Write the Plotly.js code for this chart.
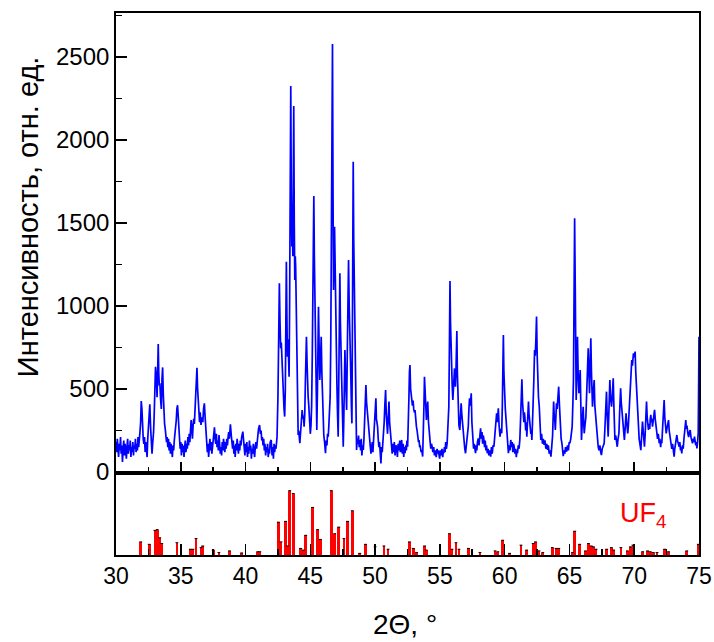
<!DOCTYPE html>
<html>
<head>
<meta charset="utf-8">
<script src="https://cdn.plot.ly/plotly-3.0.1.min.js"></script>
<style>html,body{margin:0;padding:0;background:#fff;}#chart{width:714px;height:642px;}</style>
</head>
<body>
<div id="chart"></div>
<script>
const scan30to42 = [
[30.00,180],[30.05,120],[30.10,200],[30.15,150],[30.20,90],[30.25,170],[30.30,130],[30.35,210],[30.40,110],[30.45,160],
[30.50,60],[30.55,140],[30.60,190],[30.65,100],[30.70,170],[30.75,130],[30.80,80],[30.85,150],[30.90,200],[30.95,110],
[31.00,160],[31.05,130],[31.10,190],[31.15,90],[31.20,150],[31.25,120],[31.30,180],[31.35,100],[31.40,160],[31.45,140],
[31.50,200],[31.55,120],[31.60,170],[31.65,130],[31.70,210],[31.75,150],[31.80,180],[31.85,240],[31.90,300],[31.95,428],
[32.00,380],[32.05,260],[32.10,200],[32.15,170],[32.20,210],[32.25,120],[32.30,180],[32.35,140],[32.40,90],[32.45,200],
[32.50,250],[32.55,330],[32.61,408],[32.67,270],[32.72,190],[32.78,110],[32.83,170],[32.90,240],[32.95,350],[33.00,600],
[33.05,634],[33.12,560],[33.17,450],[33.22,620],[33.26,771],[33.30,600],[33.34,520],[33.39,534],[33.44,440],[33.50,380],
[33.55,560],[33.60,630],[33.65,470],[33.70,330],[33.75,290],[33.80,260],[33.85,230],[33.90,180],[33.95,210],[34.00,150],
[34.05,200],[34.10,130],[34.15,180],[34.20,110],[34.25,170],[34.30,140],[34.35,90],[34.40,160],[34.45,130],[34.50,190],
[34.55,220],[34.60,260],[34.65,310],[34.70,380],[34.75,402],[34.80,340],[34.85,250],[34.90,200],[34.95,140],[35.00,180],
[35.05,100],[35.10,170],[35.15,120],[35.20,160],[35.25,90],[35.30,150],[35.35,190],[35.40,120],[35.45,170],[35.50,140],
[35.55,210],[35.60,160],[35.65,230],[35.70,180],[35.75,250],[35.80,313],[35.85,260],[35.90,200],[35.95,280],[36.00,320],
[36.05,290],[36.10,373],[36.15,480],[36.20,560],[36.25,628],[36.30,500],[36.35,400],[36.40,340],[36.45,300],[36.50,360],
[36.56,283],[36.62,330],[36.70,300],[36.76,380],[36.82,414],[36.88,330],[36.95,250],[37.00,200],[37.05,120],[37.10,170],
[37.15,90],[37.20,150],[37.25,200],[37.30,130],[37.35,180],[37.40,110],[37.45,160],[37.50,220],[37.55,250],[37.60,269],
[37.65,200],[37.70,170],[37.75,230],[37.80,150],[37.85,190],[37.90,130],[37.95,223],[38.00,180],[38.05,110],[38.10,150],
[38.15,100],[38.20,180],[38.25,130],[38.30,200],[38.35,160],[38.40,120],[38.45,180],[38.50,140],[38.55,200],[38.60,160],
[38.65,210],[38.70,240],[38.75,200],[38.83,287],[38.90,220],[38.95,180],[39.00,140],[39.05,190],[39.10,110],[39.15,160],
[39.20,90],[39.25,170],[39.30,130],[39.35,200],[39.40,150],[39.45,110],[39.50,170],[39.55,130],[39.60,190],[39.65,160],
[39.70,210],[39.79,243],[39.85,190],[39.90,150],[39.95,100],[40.00,170],[40.05,120],[40.10,180],[40.15,90],[40.20,150],
[40.25,110],[40.30,190],[40.35,130],[40.40,160],[40.45,80],[40.50,140],[40.55,110],[40.60,170],[40.65,130],[40.70,90],
[40.75,150],[40.80,180],[40.85,140],[40.90,200],[40.95,230],[41.00,260],[41.08,283],[41.15,230],[41.20,250],[41.25,190],
[41.30,210],[41.35,160],[41.40,200],[41.45,130],[41.50,170],[41.55,100],[41.60,150],[41.65,120],[41.70,170],[41.75,90],
[41.80,140],[41.85,110],[41.90,180],[41.98,193],[42.05,100],[42.10,150],[42.15,80],[42.20,170],[42.25,120],[42.30,160],
[42.35,140],[42.43,213]
];
const scan42to55 = [
[42.50,450],[42.56,800],[42.61,1137],[42.66,900],[42.71,745],[42.76,780],[42.82,655],[42.87,500],[42.92,414],[42.97,380],
[43.02,334],[43.07,500],[43.11,900],[43.15,1267],[43.19,950],[43.23,694],[43.28,800],[43.32,620],[43.36,574],[43.40,1000],
[43.45,1800],[43.49,2325],[43.53,1700],[43.57,1358],[43.61,1500],[43.65,1300],[43.69,1800],[43.72,2205],[43.76,1500],[43.80,1157],
[43.84,1300],[43.87,1227],[43.90,1050],[43.93,956],[43.97,600],[44.01,350],[44.06,223],[44.10,250],[44.14,200],[44.19,173],
[44.23,220],[44.28,300],[44.33,360],[44.37,373],[44.42,320],[44.47,340],[44.52,273],[44.57,350],[44.62,550],[44.66,700],
[44.70,815],[44.75,650],[44.79,500],[44.83,454],[44.88,400],[44.92,300],[44.96,253],[45.00,230],[45.05,280],[45.10,400],
[45.15,700],[45.20,1100],[45.24,1450],[45.27,1663],[45.31,1300],[45.35,1000],[45.40,915],[45.44,700],[45.47,400],[45.50,253],
[45.55,500],[45.59,800],[45.63,996],[45.68,750],[45.73,554],[45.78,650],[45.84,815],[45.89,600],[45.94,400],[45.99,293],
[46.04,220],[46.10,180],[46.17,113],[46.22,190],[46.28,160],[46.33,230],[46.38,213],[46.43,280],[46.48,350],[46.53,454],
[46.58,800],[46.63,1500],[46.67,2100],[46.71,2578],[46.75,1700],[46.79,1096],[46.83,1300],[46.87,1478],[46.91,1200],[46.94,1056],
[46.98,800],[47.02,600],[47.05,534],[47.10,350],[47.15,213],[47.19,500],[47.24,900],[47.28,1197],[47.32,900],[47.37,750],
[47.41,655],[47.45,500],[47.50,300],[47.54,153],[47.58,300],[47.63,550],[47.67,735],[47.71,600],[47.76,450],[47.80,373],
[47.85,700],[47.90,1100],[47.95,1277],[48.00,1000],[48.04,900],[48.08,795],[48.12,600],[48.17,400],[48.21,293],[48.25,900],
[48.28,1500],[48.31,1869],[48.35,1400],[48.40,1100],[48.44,976],[48.48,700],[48.52,400],[48.57,133],[48.62,200],[48.67,170],
[48.72,220],[48.77,150],[48.83,193],[48.88,130],[48.93,200],[48.98,100],[49.04,160],[49.09,133],[49.14,200],[49.19,320],
[49.24,450],[49.29,524],[49.34,420],[49.40,350],[49.47,313],[49.52,250],[49.57,200],[49.62,160],[49.68,110],[49.73,133],
[49.78,180],[49.83,120],[49.88,200],[49.93,260],[49.98,350],[50.02,420],[50.06,444],[50.10,320],[50.15,300],[50.19,273],
[50.24,200],[50.29,150],[50.34,180],[50.40,90],[50.45,52],[50.50,150],[50.55,120],[50.60,180],[50.65,220],[50.70,300],
[50.75,400],[50.81,494],[50.86,350],[50.91,300],[50.96,230],[51.01,320],[51.07,424],[51.12,300],[51.17,250],[51.22,200],
[51.27,153],[51.32,110],[51.38,170],[51.43,120],[51.48,180],[51.54,100],[51.60,160],[51.66,153],[51.72,90],[51.78,170],
[51.84,130],[51.90,190],[51.95,120],[52.00,150],[52.05,193],[52.10,110],[52.16,170],[52.21,90],[52.26,150],[52.31,113],
[52.36,160],[52.41,130],[52.46,190],[52.51,153],[52.56,250],[52.61,450],[52.65,600],[52.69,644],[52.74,500],[52.78,480],
[52.82,444],[52.88,400],[52.93,430],[52.98,380],[53.03,360],[53.08,373],[53.14,300],[53.19,273],[53.24,250],[53.30,220],
[53.35,180],[53.39,193],[53.44,150],[53.49,153],[53.55,120],[53.60,133],[53.67,93],[53.72,200],[53.77,400],[53.81,574],
[53.85,500],[53.90,350],[53.96,313],[54.01,380],[54.06,424],[54.12,300],[54.19,203],[54.25,180],[54.30,140],[54.35,170],
[54.40,153],[54.46,120],[54.52,150],[54.58,100],[54.63,130],[54.66,113],[54.72,90],[54.78,140],[54.84,110],[54.88,130],
[54.92,103],[54.98,80]
];
const scan55to65 = [
[55.04,130],[55.10,100],[55.16,140],[55.22,90],[55.27,130],[55.30,113],[55.35,150],[55.40,120],[55.45,180],[55.50,140],
[55.56,173],[55.62,250],[55.69,394],[55.74,800],[55.78,1150],[55.82,900],[55.86,700],[55.90,631],[55.95,520],[56.00,434],
[56.05,500],[56.09,580],[56.13,624],[56.17,560],[56.20,514],[56.24,600],[56.28,780],[56.31,849],[56.35,600],[56.41,333],
[56.47,280],[56.54,253],[56.59,330],[56.64,414],[56.69,350],[56.75,280],[56.80,233],[56.86,180],[56.92,140],[56.98,113],
[57.04,150],[57.10,190],[57.15,230],[57.19,273],[57.24,380],[57.29,444],[57.35,400],[57.42,474],[57.47,300],[57.51,230],
[57.55,173],[57.60,140],[57.65,170],[57.70,120],[57.75,113],[57.80,160],[57.85,130],[57.90,180],[57.96,203],[58.02,160],
[58.08,220],[58.14,263],[58.20,200],[58.25,240],[58.30,170],[58.35,220],[58.40,193],[58.45,150],[58.50,190],[58.55,130],
[58.60,160],[58.66,113],[58.72,140],[58.78,100],[58.84,130],[58.92,93],[58.98,150],[59.04,110],[59.10,160],[59.17,153],
[59.22,200],[59.28,280],[59.33,330],[59.38,354],[59.44,300],[59.51,384],[59.57,280],[59.64,213],[59.70,260],[59.77,233],
[59.82,400],[59.86,650],[59.90,825],[59.94,600],[60.00,434],[60.05,380],[60.11,313],[60.17,250],[60.23,180],[60.29,113],
[60.35,160],[60.41,130],[60.47,193],[60.53,150],[60.58,180],[60.63,120],[60.68,170],[60.73,153],[60.79,110],[60.85,140],
[60.90,90],[60.95,130],[60.99,113],[61.05,160],[61.11,140],[61.17,193],[61.22,300],[61.28,450],[61.33,558],[61.38,420],
[61.43,354],[61.48,300],[61.52,360],[61.56,333],[61.62,250],[61.67,300],[61.71,213],[61.76,280],[61.80,370],[61.84,424],
[61.88,350],[61.93,300],[61.97,273],[62.02,230],[62.06,250],[62.10,193],[62.15,300],[62.20,394],[62.25,550],[62.31,735],
[62.36,700],[62.41,800],[62.46,936],[62.51,700],[62.56,494],[62.61,450],[62.67,394],[62.72,300],[62.79,193],[62.85,230],
[62.92,170],[62.98,200],[63.05,163],[63.11,190],[63.18,140],[63.25,170],[63.31,133],[63.37,160],[63.44,110],[63.50,130],
[63.57,93],[63.63,150],[63.70,220],[63.75,350],[63.78,424],[63.83,330],[63.87,313],[63.91,253],[63.96,350],[64.00,414],
[64.05,380],[64.10,420],[64.17,514],[64.23,400],[64.30,273],[64.36,200],[64.42,173],[64.48,120],[64.52,95],[64.58,130],
[64.64,110],[64.70,150],[64.78,122],[64.85,160],[64.92,130],[64.98,180]
];
const scan65to75 = [
[65.03,173],[65.10,200],[65.16,240],[65.21,273],[65.26,400],[65.31,554],[65.36,1100],[65.40,1528],[65.45,1100],[65.49,700],
[65.52,434],[65.57,600],[65.62,815],[65.67,600],[65.73,474],[65.78,550],[65.83,614],[65.88,400],[65.93,193],[65.99,300],
[66.06,393],[66.10,300],[66.14,233],[66.20,280],[66.27,333],[66.32,450],[66.37,600],[66.41,700],[66.45,745],[66.50,600],
[66.55,474],[66.60,650],[66.65,805],[66.70,600],[66.74,450],[66.78,393],[66.84,480],[66.91,554],[66.96,400],[67.02,330],
[67.09,273],[67.15,200],[67.22,152],[67.28,130],[67.35,160],[67.41,120],[67.47,102],[67.53,140],[67.60,160],[67.68,173],
[67.73,250],[67.78,350],[67.82,420],[67.86,484],[67.91,350],[67.95,260],[67.99,213],[68.04,350],[68.08,480],[68.12,554],
[68.17,450],[68.21,400],[68.25,393],[68.30,450],[68.34,520],[68.38,564],[68.43,400],[68.47,250],[68.51,193],[68.57,220],
[68.63,180],[68.69,152],[68.75,200],[68.82,233],[68.87,350],[68.91,450],[68.95,504],[69.00,420],[69.04,380],[69.08,333],
[69.13,260],[69.18,220],[69.24,193],[69.29,250],[69.33,300],[69.37,354],[69.42,300],[69.46,260],[69.50,233],[69.55,280],
[69.60,350],[69.64,400],[69.68,454],[69.73,560],[69.77,620],[69.81,675],[69.86,640],[69.90,700],[69.94,715],[69.99,690],
[70.03,720],[70.07,725],[70.12,600],[70.17,514],[70.22,420],[70.27,330],[70.33,233],[70.38,200],[70.44,170],[70.51,132],
[70.56,200],[70.60,250],[70.64,304],[70.69,250],[70.74,200],[70.79,152],[70.84,220],[70.90,330],[70.95,424],[71.00,330],
[71.05,300],[71.10,253],[71.15,290],[71.20,260],[71.24,320],[71.28,344],[71.33,300],[71.37,320],[71.41,273],[71.46,310],
[71.52,340],[71.57,374],[71.62,320],[71.68,280],[71.75,233],[71.80,200],[71.86,230],[71.93,173],[71.98,200],[72.04,150],
[72.09,190],[72.13,173],[72.18,250],[72.23,330],[72.27,380],[72.31,434],[72.36,330],[72.41,280],[72.47,233],[72.52,260],
[72.58,280],[72.65,313],[72.70,250],[72.75,220],[72.80,190],[72.85,173],[72.90,140],[72.96,170],[73.02,120],[73.08,92],
[73.13,140],[73.18,180],[73.24,200],[73.29,223],[73.34,190],[73.40,170],[73.47,152],[73.52,180],[73.57,130],[73.62,150],
[73.67,112],[73.72,160],[73.78,140],[73.84,200],[73.90,250],[73.94,290],[73.98,313],[74.02,260],[74.07,280],[74.14,233],
[74.20,210],[74.26,240],[74.32,253],[74.38,210],[74.44,190],[74.50,173],[74.55,200],[74.60,180],[74.65,213],[74.70,190],
[74.75,160],[74.80,180],[74.84,142],[74.89,180],[74.94,233],[74.97,500],[75.00,815]
];

// UF4 reference lines: positions (2Θ) and relative intensities
const uf4Pos = [31.91,32.56,33.00,33.18,33.38,33.53,34.70,35.74,35.94,36.18,36.56,36.70,37.50,37.94,38.76,39.70,40.94,41.10,
42.53,42.74,43.09,43.24,43.41,43.68,44.26,44.47,44.65,45.18,45.56,45.76,46.62,46.88,47.20,47.59,47.88,48.24,48.82,49.26,
50.00,50.68,51.00,52.65,52.94,53.20,53.82,53.94,55.74,55.94,56.24,56.47,57.20,58.09,59.26,59.47,59.85,60.38,61.26,61.70,
62.20,62.38,62.65,62.94,63.68,63.97,64.18,65.24,65.41,65.79,66.24,66.47,66.68,66.85,67.06,67.88,68.24,68.41,68.97,69.47,
69.71,69.90,70.65,71.03,71.24,71.47,71.76,72.35,72.65,74.06,74.95];
const uf4Int = [16,13,30,31,21,14,15,7,7,20,9,11,6,3,5,2.5,4,4,
40,16,41,11,78.5,75,8,6,24,58,31,19,78.5,26,34,20,41,54,2,13,
10,11,7,16,8,3,11,6,26,7,15,7,8,3,5,4,18,2,12,6,
14,16,5,3,9,8,8,3,29,13,5,14,11,10,7,7,9,6,9,5,
10,12,4,5,4,3,3,7,4,5,13];

const xTickVals = [30,35,40,45,50,55,60,65,70,75];
const yTickVals = [0,500,1000,1500,2000,2500];

const scan = [].concat(scan30to42, scan42to55, scan55to65, scan65to75);
const scanX = scan.map(p => p[0]);
const scanY = scan.map(p => p[1]);

const FONT = 'Arial, "Liberation Sans", sans-serif';
const split = 82/542;

const traces = [
  {x: scanX, y: scanY, type: 'scatter', mode: 'lines', xaxis: 'x2', yaxis: 'y2',
   line: {color: '#0000ff', width: 1.7}, hoverinfo: 'skip'},
  {x: uf4Pos, y: uf4Int, type: 'bar', xaxis: 'x', yaxis: 'y', width: 0.21,
   marker: {color: '#ff0000', line: {width: 0}}, hoverinfo: 'skip'},
  {x: uf4Pos, y: uf4Int, type: 'scatter', mode: 'markers', xaxis: 'x', yaxis: 'y',
   marker: {symbol: 'line-ew-open', size: 2, color: '#000', line: {color: '#000', width: 1}}, hoverinfo: 'skip'}
];

const axLine = {showline: true, linecolor: '#000', linewidth: 1.8, mirror: true, showgrid: false, zeroline: false};

const layout = {
  width: 714, height: 642,
  margin: {l: 116, r: 15, t: 13, b: 87},
  paper_bgcolor: '#fff', plot_bgcolor: '#fff',
  showlegend: false, bargap: 0,
  font: {family: FONT, size: 23, color: '#000'},
  xaxis: Object.assign({}, axLine, {
    range: [30, 75], anchor: 'y', domain: [0, 1],
    tickvals: xTickVals, ticktext: xTickVals.map(String),
    ticks: 'inside', ticklen: 11, tickwidth: 1.6, tickcolor: '#000',
    minor: {dtick: 2.5, tick0: 30, ticks: 'inside', ticklen: 6, tickwidth: 1.6, tickcolor: '#000'},
    tickfont: {family: FONT, size: 23, color: '#000'}
  }),
  yaxis: Object.assign({}, axLine, {
    range: [0, 100], domain: [0, split], anchor: 'x',
    showticklabels: false, ticks: ''
  }),
  xaxis2: Object.assign({}, axLine, {
    range: [30, 75], anchor: 'y2', matches: 'x',
    tickvals: xTickVals, showticklabels: false,
    ticks: 'inside', ticklen: 11, tickwidth: 1.6, tickcolor: '#000',
    minor: {dtick: 2.5, tick0: 30, ticks: 'inside', ticklen: 6, tickwidth: 1.6, tickcolor: '#000'}
  }),
  yaxis2: Object.assign({}, axLine, {
    range: [-6, 2765], domain: [split, 1], anchor: 'x2',
    tickvals: yTickVals, ticktext: yTickVals.map(String),
    ticks: 'inside', ticklen: 11, tickwidth: 1.6, tickcolor: '#000',
    minor: {dtick: 250, tick0: 0, ticks: 'inside', ticklen: 6, tickwidth: 1.6, tickcolor: '#000'},
    tickfont: {family: FONT, size: 24, color: '#000'}
  }),
  annotations: [
    {text: 'Интенсивность, отн. ед.', xref: 'paper', yref: 'paper', x: -0.152, y: 0.624,
     xanchor: 'center', yanchor: 'middle', textangle: -90, showarrow: false,
     font: {family: FONT, size: 29, color: '#000'}},
    {text: '2Θ, °', xref: 'paper', yref: 'paper', x: 0.496, y: -0.128,
     xanchor: 'center', yanchor: 'middle', showarrow: false,
     font: {family: FONT, size: 28, color: '#000'}},
    {text: 'UF<sub>4</sub>', xref: 'paper', yref: 'paper', x: 0.904, y: 0.074,
     xanchor: 'center', yanchor: 'middle', showarrow: false,
     font: {family: FONT, size: 27, color: '#ff0000'}}
  ]
};

Plotly.newPlot('chart', traces, layout, {staticPlot: true, displayModeBar: false});
</script>
</body>
</html>
